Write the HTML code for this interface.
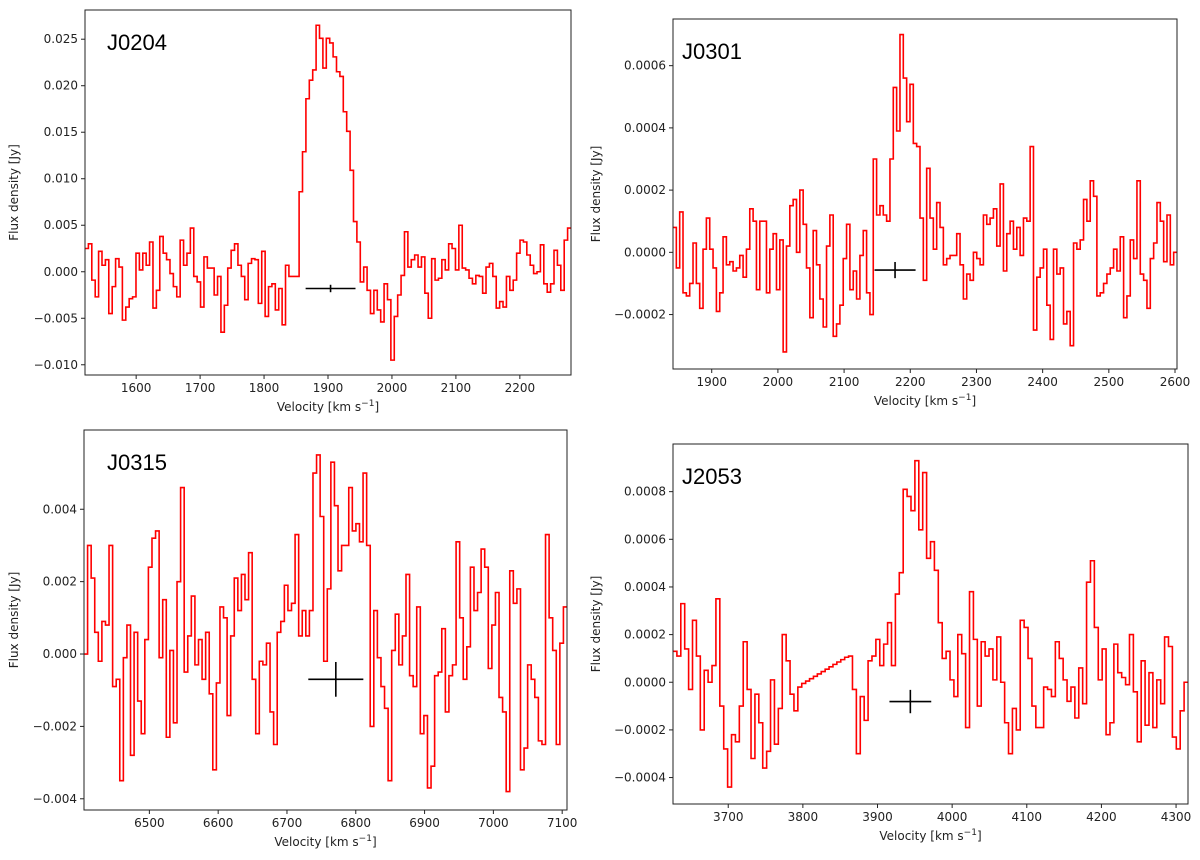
<!DOCTYPE html>
<html><head><meta charset="utf-8"><style>
body{margin:0;background:#fff;}
svg{display:block;font-family:"DejaVu Sans","Liberation Sans",sans-serif;}
</style></head><body>
<svg id="fig" width="1200" height="860" viewBox="0 0 1200 860" xmlns="http://www.w3.org/2000/svg"></svg>
<script>
// ---- data (flux in mJy for J0204/J0315, in 1e-4 Jy for J0301/J2053) ----
const j0204Flux = [2.5,3.0,-0.9,-2.7,2.2,0.7,1.3,-4.5,-1.6,1.4,0.5,-5.2,-3.8,-2.9,-2.7,2.0,0.2,2.0,0.7,3.2,-3.9,-2.0,3.8,2.0,1.3,-0.2,-1.6,-2.7,3.4,0.7,2.0,4.7,-0.5,-1.1,-3.8,1.6,0.4,0.4,-2.5,-0.5,-6.5,-3.6,0.4,2.3,3.0,0.7,-0.5,-3.0,0.9,1.4,1.3,-3.4,2.2,-4.8,-1.6,-1.3,-4.1,-1.8,-5.7,0.7,-0.5,-0.5,-0.5,8.6,12.9,18.6,20.6,21.7,26.5,25.1,21.9,25.1,24.6,23.1,21.5,21.0,17.2,15.1,10.9,5.4,3.2,-1.1,0.5,-2.0,-4.5,-2.0,-4.1,-5.4,-1.3,-3.0,-9.5,-4.8,-2.5,-0.4,4.3,0.5,1.3,1.8,0.5,1.6,-2.3,-5.0,1.4,-0.9,-0.7,1.3,0.2,3.0,2.5,0.2,5.0,0.4,0.2,-0.7,-1.3,-0.4,-0.5,-2.3,0.5,0.9,-0.5,-3.9,-3.2,-3.8,-0.5,-2.0,-0.9,2.0,3.4,3.2,1.8,0.7,-0.2,0.0,2.9,-1.3,-2.2,-1.3,2.3,0.7,-2.0,3.4,4.7];
const j0301Flux = [0.8,-0.5,1.3,-1.3,-1.4,-1.0,0.3,-1.0,-1.8,0.1,1.1,0.1,-0.5,-1.9,-1.3,0.5,-0.4,-0.3,-0.6,-0.5,-0.1,-0.8,0.1,1.4,1.0,-1.2,1.0,1.0,-1.3,0.1,0.6,-1.2,0.4,-3.2,0.2,1.5,1.7,0.0,2.0,0.9,-0.5,-2.1,0.7,-0.4,-1.5,-2.4,0.2,1.2,-2.7,-2.3,-1.7,-0.2,0.9,-1.2,-0.6,-1.5,-0.1,0.7,-1.3,-2.0,3.0,1.2,1.5,1.2,1.0,3.0,5.3,3.9,7.0,5.6,4.2,5.4,3.5,3.4,1.1,-0.9,2.7,1.1,0.1,1.6,0.8,-0.4,-0.2,-0.1,-0.1,0.6,-0.4,-1.5,-0.7,-0.9,0.0,-0.2,-0.4,1.2,0.9,1.1,1.4,0.2,2.2,-0.6,0.6,1.0,0.1,0.8,-0.1,1.1,1.0,3.4,-2.5,-0.8,-0.5,0.1,-1.7,-2.8,0.1,-0.7,-0.5,-2.3,-1.9,-3.0,0.3,0.1,0.4,1.7,1.0,2.3,1.8,-1.4,-1.3,-1.0,-0.7,-0.5,0.1,-0.6,0.5,-2.1,-1.4,0.4,-0.2,2.3,-0.7,-0.9,-1.8,-0.2,0.3,1.6,1.0,-0.3,1.2,-0.4,0.0];
const j0315Flux = [0,3.0,2.1,0.6,-0.2,0.9,0.8,3.0,-0.9,-0.7,-3.5,-0.1,0.8,-2.8,0.6,-1.3,-2.2,0.4,2.4,3.2,3.4,-0.1,1.5,-2.3,0.1,-1.9,2.0,4.6,-0.5,0.5,1.6,-0.3,0.4,-0.7,0.6,-1.1,-3.2,-0.8,1.3,1.0,-1.7,0.5,2.1,1.2,2.2,1.5,2.8,-0.7,-2.2,-0.2,-0.3,0.3,-1.6,-2.5,0.6,0.9,1.9,1.2,1.4,3.3,0.5,1.2,0.5,1.2,5.0,5.5,3.8,-0.2,1.8,5.3,4.1,2.3,3.0,3.0,4.6,3.4,3.6,3.1,5.0,3.0,-2.0,1.2,-0.1,-0.9,-1.5,-3.5,0.1,1.1,-0.3,0.5,2.2,-0.6,-0.9,1.3,-2.2,-1.7,-3.7,-3.1,-0.6,-0.5,0.7,-1.6,-0.6,-0.3,3.1,1.0,-0.7,0.2,2.4,1.2,1.7,2.9,2.4,-0.4,0.8,1.7,-1.2,-1.6,-3.8,2.3,1.4,1.8,-3.2,-2.6,-0.3,-0.7,-1.2,-2.4,-2.5,3.3,1.0,0.1,-2.5,0.3,1.3];
const j2053Flux = [1.3,1.1,3.3,1.4,-0.3,2.6,1.1,-2.0,0.5,0,0.7,3.5,-1.0,-2.8,-4.4,-2.2,-2.5,-1.0,1.7,-0.3,-3.2,-0.5,-1.7,-3.6,-2.9,0.1,-2.6,-1.1,2.0,0.9,-0.5,-1.2,-0.2,-0.05,0.05,0.15,0.25,0.35,0.45,0.55,0.65,0.75,0.85,0.95,1.05,1.1,-0.3,-3.0,-0.6,-1.6,0.9,1.1,1.8,0.7,1.6,2.5,0.7,3.7,4.6,8.1,7.8,7.2,9.3,6.4,8.8,5.2,5.9,4.7,2.5,1.0,1.3,0.1,-0.6,2.0,1.2,-1.9,3.8,1.8,-1.0,1.7,1.1,1.4,0.1,1.9,0,-1.7,-3.0,-1.1,-2.0,2.6,2.3,1.0,-1.0,-1.9,-1.9,-0.2,-0.3,-0.6,1.7,1.0,0.1,-0.8,-0.2,-1.5,0.6,-0.9,4.2,5.1,2.3,0.1,1.4,-2.2,-1.7,1.6,0.4,0.2,-0.1,2.0,-0.4,-2.5,0.9,-1.8,0.4,-1.9,0.1,-0.9,1.9,1.5,-2.3,-2.8,-1.2,0];
const j0204XTicks = [1600,1700,1800,1900,2000,2100,2200];
const j0204YTicks = [-0.010,-0.005,0.000,0.005,0.010,0.015,0.020,0.025];
const j0301XTicks = [1900,2000,2100,2200,2300,2400,2500,2600];
const j0301YTicks = [-0.0002,0.0000,0.0002,0.0004,0.0006];
const j0315XTicks = [6500,6600,6700,6800,6900,7000,7100];
const j0315YTicks = [-0.004,-0.002,0.000,0.002,0.004];
const j2053XTicks = [3700,3800,3900,4000,4100,4200,4300];
const j2053YTicks = [-0.0004,-0.0002,0.0000,0.0002,0.0004,0.0006,0.0008];
// error bars: [centre velocity, half width, flux, flux error]
const j0204Err = [1904,39,-0.0018,0.0004];
const j0301Err = [2177,31,-0.000057,0.000026];
const j0315Err = [6771,40,-0.0007,0.00048];
const j2053Err = [3944,28,-0.000081,0.000049];

const NS="http://www.w3.org/2000/svg";
const svg=document.getElementById('fig');
function mk(tag,attrs,parent){const e=document.createElementNS(NS,tag);for(const k in attrs)e.setAttribute(k,attrs[k]);(parent||svg).appendChild(e);return e;}

function panel(cfg){
  const g=mk('g',{});
  
  
  const {x0,x1,y0,y1,vmin,vmax,fmin,fmax}=cfg;
  const sx=v=>x0+(v-vmin)/(vmax-vmin)*(x1-x0);
  const sy=f=>y1-(f-fmin)/(fmax-fmin)*(y1-y0);
  const clip=mk('clipPath',{id:'c'+cfg.id},g);
  mk('rect',{x:x0,y:y0,width:x1-x0,height:y1-y0},clip);
  // series
  const n=cfg.flux.length, w=(vmax-vmin)/n;
  let d='';
  cfg.flux.forEach((f,i)=>{
    const a=sx(vmin+i*w), b=sx(vmin+(i+1)*w), y=sy(f*cfg.scale);
    d+=(i===0?'M':'L')+a.toFixed(2)+','+y.toFixed(2)+'L'+b.toFixed(2)+','+y.toFixed(2);
  });
  const line=mk('path',{d:d,fill:'none',stroke:'#ff0000','stroke-width':1.6,'stroke-linejoin':'miter','clip-path':'url(#c'+cfg.id+')'},g);
  
  
  // error bar
  const e=cfg.err;
  const eb=mk('g',{stroke:'#000','stroke-width':1.6},g);
  
  
  mk('line',{x1:sx(e[0]-e[1]),x2:sx(e[0]+e[1]),y1:sy(e[2]),y2:sy(e[2])},eb);
  mk('line',{x1:sx(e[0]),x2:sx(e[0]),y1:sy(e[2]-e[3]),y2:sy(e[2]+e[3])},eb);
  // frame
  const fr=mk('rect',{x:x0,y:y0,width:x1-x0,height:y1-y0,fill:'none',stroke:'#222','stroke-width':1},g);
  
  
  // x ticks
  cfg.xt.forEach(v=>{
    const x=sx(v);
    mk('line',{x1:x,x2:x,y1:y1,y2:y1+4,stroke:'#222'},g);
    const t=mk('text',{x:x,y:y1+17,'font-size':12,'text-anchor':'middle',fill:'#222'},g);
    t.textContent=String(v);
    
    
  });
  cfg.yt.forEach(f=>{
    const y=sy(f);
    mk('line',{x1:x0-4,x2:x0,y1:y,y2:y,stroke:'#222'},g);
    const t=mk('text',{x:x0-7,y:y+4,'font-size':12,'text-anchor':'end',fill:'#222'},g);
    t.textContent=f.toFixed(cfg.dec).replace('-','\u2212');
    
    
  });
  const xl=mk('text',{x:(x0+x1)/2,y:y1+36,'font-size':12,'text-anchor':'middle',fill:'#222'},g);
  xl.innerHTML='Velocity [km s<tspan dy="-5" font-size="9">\u22121</tspan><tspan dy="5">]</tspan>';
  
  
  const yl=mk('text',{x:0,y:0,'font-size':12,'text-anchor':'middle',fill:'#222',transform:'translate('+cfg.ylx+','+((y0+y1)/2)+') rotate(-90)'},g);
  yl.textContent='Flux density [Jy]';
  
  
  const tt=mk('text',{x:x0+(cfg.tdx||22),y:y0+40,'font-size':22,fill:'#000','font-family':'Liberation Sans, sans-serif'},g);
  tt.textContent=cfg.id;
  
  
}

panel({id:'J0204',x0:85,x1:571,y0:10,y1:375,vmin:1520,vmax:2280,fmin:-0.0111,fmax:0.02814,flux:j0204Flux,scale:0.001,xt:j0204XTicks,yt:j0204YTicks,dec:3,err:j0204Err,ylx:18,tdx:22});
panel({id:'J0301',x0:673,x1:1177,y0:19,y1:369,vmin:1841.5,vmax:2603,fmin:-0.000375,fmax:0.00075,flux:j0301Flux,scale:0.0001,xt:j0301XTicks,yt:j0301YTicks,dec:4,err:j0301Err,ylx:600,tdx:9});
panel({id:'J0315',x0:84,x1:567,y0:430,y1:810,vmin:6405,vmax:7107,fmin:-0.00431,fmax:0.00619,flux:j0315Flux,scale:0.001,xt:j0315XTicks,yt:j0315YTicks,dec:3,err:j0315Err,ylx:18,tdx:23});
panel({id:'J2053',x0:673,x1:1188,y0:444,y1:804,vmin:3626,vmax:4316,fmin:-0.000511,fmax:0.0010,flux:j2053Flux,scale:0.0001,xt:j2053XTicks,yt:j2053YTicks,dec:4,err:j2053Err,ylx:600,tdx:9});
</script>
</body></html>
